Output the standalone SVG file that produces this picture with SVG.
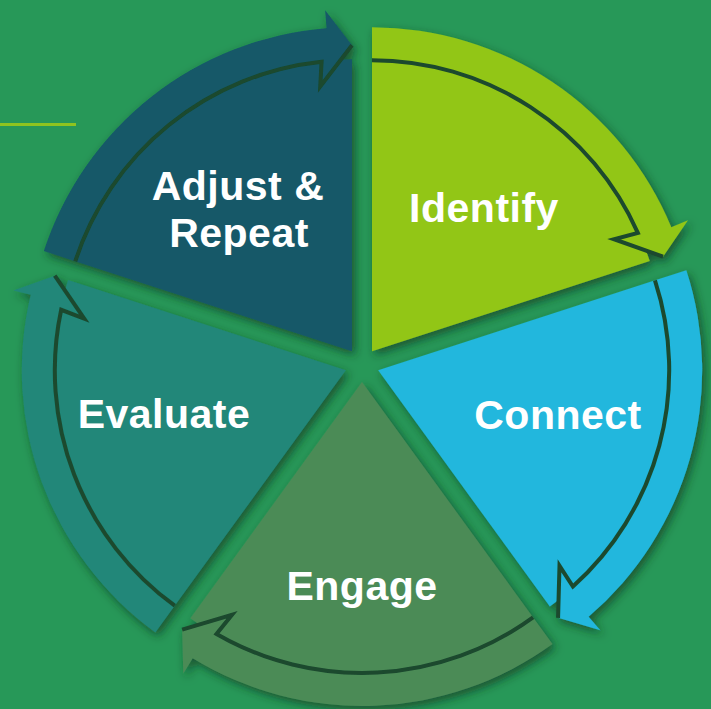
<svg xmlns="http://www.w3.org/2000/svg" xmlns:xlink="http://www.w3.org/1999/xlink" width="711" height="709" viewBox="0 0 711 709">
  <style>
    .lbl { font-family: "Liberation Sans", Arial, sans-serif; font-weight: bold; font-size: 41px; fill: #ffffff; text-anchor: middle; letter-spacing: 0.5px; }
    .groove { fill: none; stroke: #1a4a2e; stroke-width: 4; stroke-linejoin: miter; }
  </style>
  <defs>
    <filter id="sh" x="-20%" y="-20%" width="140%" height="140%">
      <feDropShadow dx="3" dy="4" stdDeviation="5" flood-color="#0a2f1a" flood-opacity="0.65"/>
    </filter>
    <path id="wedge" d="M0,0 L0,-292 A292,292 0 0 1 277.71,-90.23 Z"/>
    <path id="band" d="M0,-292 A292,292 0 0 1 266.76,-118.77 L242,-112 L291.02,-94.56 L315.97,-130.88 L299.34,-123.99 A324,324 0 0 0 0,-324 Z"/>
    <path id="grooveP" d="M0,-291 A291,291 0 0 1 265.84,-118.36 L242,-112 L291.02,-94.56"/>
  </defs>
  <rect x="0" y="0" width="711" height="709" fill="#279858"/>
  <line x1="0" y1="124.5" x2="76" y2="124.5" stroke="#8fc31f" stroke-width="3"/>

  <g id="identify">
    <g filter="url(#sh)" fill="#92c616">
      <g transform="translate(372,351.2)">
        <use href="#wedge"/><use href="#band"/><use href="#grooveP" class="groove"/>
      </g>
    </g>
    <text class="lbl" x="484" y="222">Identify</text>
  </g>

  <g id="connect">
    <g filter="url(#sh)" fill="#20b7dd">
      <g transform="translate(378.2,370.3) rotate(72)">
        <use href="#wedge"/><use href="#band"/><use href="#grooveP" class="groove"/>
      </g>
    </g>
    <text class="lbl" x="558" y="429">Connect</text>
  </g>

  <g id="engage">
    <g filter="url(#sh)" fill="#4c8b57">
      <g transform="translate(362,382) rotate(144)">
        <use href="#wedge"/><use href="#band"/><use href="#grooveP" class="groove"/>
      </g>
    </g>
    <text class="lbl" x="362" y="600">Engage</text>
  </g>

  <g id="evaluate">
    <g filter="url(#sh)" fill="#208779">
      <g transform="translate(345.8,370.3) rotate(216)">
        <use href="#wedge"/><use href="#band"/><use href="#grooveP" class="groove"/>
      </g>
    </g>
    <text class="lbl" x="164" y="428">Evaluate</text>
  </g>

  <g id="adjust">
    <g filter="url(#sh)" fill="#145868">
      <g transform="translate(352,351.2) rotate(288)">
        <use href="#wedge"/><use href="#band"/><use href="#grooveP" class="groove"/>
      </g>
    </g>
    <text class="lbl" x="238" y="200">Adjust &amp;</text>
    <text class="lbl" x="239" y="247">Repeat</text>
  </g>

  <g id="connectors"/>
</svg>
